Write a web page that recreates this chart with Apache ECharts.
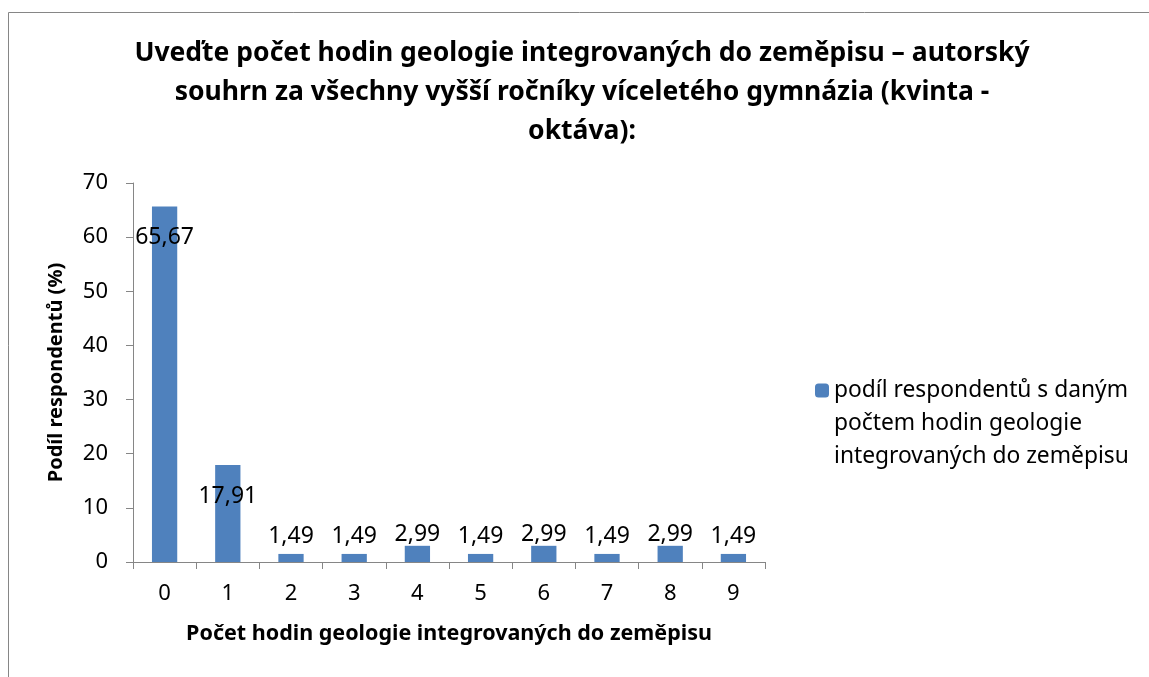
<!DOCTYPE html>
<html>
<head>
<meta charset="utf-8">
<script src="https://cdn.jsdelivr.net/npm/echarts@6/dist/echarts.min.js"></script>
<style>
  html, body { margin: 0; padding: 0; background: #fff; }
  #chart { width: 1149px; height: 677px; }
</style>
</head>
<body>
<div id="chart"></div>
<script>
var categories = ['0', '1', '2', '3', '4', '5', '6', '7', '8', '9'];
var values = [65.67, 17.91, 1.49, 1.49, 2.99, 1.49, 2.99, 1.49, 2.99, 1.49];
var seriesName = 'podíl respondentů s daným\npočtem hodin geologie\nintegrovaných do zeměpisu';
var titleText = 'Uveďte počet hodin geologie integrovaných do zeměpisu – autorský\nsouhrn za všechny vyšší ročníky víceletého gymnázia (kvinta -\noktáva):';
var xName = 'Počet hodin geologie integrovaných do zeměpisu';
var yName = 'Podíl respondentů (%)';

var font = '"Noto Sans", sans-serif';

function fmt(v) {
    return v.toFixed(2).replace('.', ',');
}

var chart = echarts.init(document.getElementById('chart'));

var data = values.map(function (v) {
    // big bars: label inside near the top, small ones: above the bar
    var label;
    if (v > 10) {
        label = { position: 'insideTop', distance: 20 };
    } else {
        label = { position: 'top', distance: v < 2 ? 6 : 0 };
    }
    return { value: v, label: label };
});

option = {
    backgroundColor: '#fff',
    animation: false,
    graphic: [
        {
            type: 'rect',
            shape: { x: 8.5, y: 12.5, width: 1200, height: 700 },
            style: { fill: 'none', stroke: '#868686', lineWidth: 1 }
        }
    ],
    title: {
        text: titleText,
        left: 582,
        textAlign: 'center',
        top: 34,
        padding: 0,
        textStyle: {
            fontFamily: font,
            fontSize: 26.5,
            fontWeight: 'bold',
            color: '#000',
            lineHeight: 39
        }
    },
    grid: {
        left: 133,
        right: 384,
        top: 183,
        bottom: 115
    },
    legend: {
        left: 815,
        top: 308,
        padding: 0,
        orient: 'vertical',
        itemWidth: 14,
        itemHeight: 14,
        data: [seriesName],
        // two empty lines on top so the icon sits beside the first line
        formatter: function (name) { return '\n\n' + name; },
        textStyle: {
            fontFamily: font,
            fontSize: 22.8,
            color: '#000',
            lineHeight: 33
        }
    },
    xAxis: {
        type: 'category',
        data: categories,
        name: xName,
        nameLocation: 'middle',
        nameGap: 61,
        nameTextStyle: {
            fontFamily: font,
            fontSize: 21.5,
            fontWeight: 'bold',
            color: '#000'
        },
        axisLine: { lineStyle: { color: '#868686', width: 1 } },
        axisTick: { show: true, alignWithLabel: false, length: 7, lineStyle: { color: '#868686' } },
        axisLabel: {
            fontFamily: font,
            fontSize: 22,
            color: '#000',
            margin: 21
        }
    },
    yAxis: {
        type: 'value',
        min: 0,
        max: 70,
        interval: 10,
        name: yName,
        nameLocation: 'middle',
        nameGap: 67,
        nameTextStyle: {
            fontFamily: font,
            fontSize: 20,
            fontWeight: 'bold',
            color: '#000'
        },
        splitLine: { show: false },
        axisLine: { show: true, lineStyle: { color: '#868686', width: 1 } },
        axisTick: { show: true, length: 7, lineStyle: { color: '#868686' } },
        axisLabel: {
            fontFamily: font,
            fontSize: 22,
            color: '#000',
            margin: 25
        }
    },
    series: [
        {
            name: seriesName,
            type: 'bar',
            barWidth: '40%',
            data: data,
            itemStyle: { color: '#4F81BD' },
            label: {
                show: true,
                fontFamily: font,
                fontSize: 23,
                color: '#000',
                formatter: function (p) { return fmt(p.value); }
            }
        }
    ]
};

chart.setOption(option);
</script>
</body>
</html>
